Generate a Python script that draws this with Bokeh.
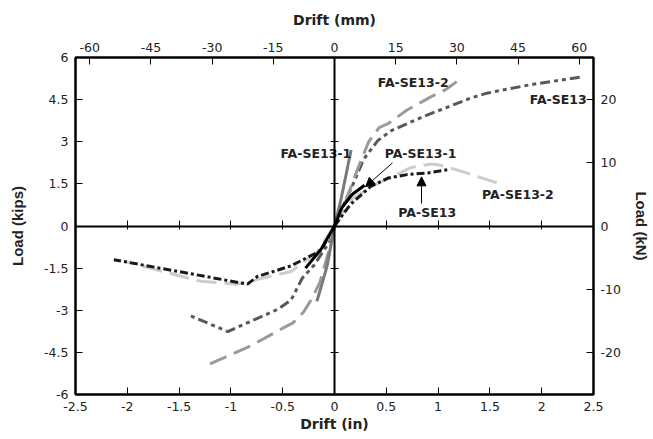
from bokeh.plotting import figure
from bokeh.models import Range1d, LinearAxis, FixedTicker, Arrow, NormalHead
from bokeh.embed import file_html
from bokeh.resources import INLINE
from bokeh.core.properties import value

IN_TO_MM = 25.4
KIP_TO_KN = 4.448

# ---- axis ticks / labels ----
x_ticks_in = [-2.5, -2, -1.5, -1, -0.5, 0, 0.5, 1, 1.5, 2, 2.5]
x_labels_in = ["-2.5", "-2", "-1.5", "-1", "-0.5", "0", "0.5", "1", "1.5", "2", "2.5"]
x_ticks_mm = [-60, -45, -30, -15, 0, 15, 30, 45, 60]
x_labels_mm = ["-60", "-45", "-30", "-15", "0", "15", "30", "45", "60"]
y_ticks_kips = [-6, -4.5, -3, -1.5, 0, 1.5, 3, 4.5, 6]
y_labels_kips = ["-6", "-4.5", "-3", "-1.5", "0", "1.5", "3", "4.5", "6"]
y_ticks_kn = [-20, -10, 0, 10, 20]
y_labels_kn = ["-20", "-10", "0", "10", "20"]
zero_x_ticks = [-2, -1.5, -1, -0.5, 0.5, 1, 1.5, 2]
zero_y_ticks = [-4.5, -3, -1.5, 1.5, 3, 4.5]

# ---- data: drift (in), load (kips) ----
fa_se13_pos_x = [0, 0.11, 0.17, 0.28, 0.42, 0.55, 0.86, 1.31, 1.47, 1.89, 2.37]
fa_se13_pos_y = [0, 0.94, 1.41, 2.37, 3.05, 3.4, 3.9, 4.55, 4.73, 5.03, 5.3]
fa_se13_neg_x = [0, -0.02, -0.2, -0.31, -0.42, -0.55, -1.03, -1.42]
fa_se13_neg_y = [0, -0.4, -1.41, -1.85, -2.64, -2.97, -3.76, -3.15]

fa_se13_1_pos_x = [0, 0.06, 0.11, 0.16]
fa_se13_1_pos_y = [0, 0.9, 1.8, 2.7]
fa_se13_1_neg_x = [0, -0.03, -0.07, -0.12, -0.17]
fa_se13_1_neg_y = [0, -0.6, -1.4, -2.05, -2.68]

fa_se13_2_pos_x = [0, 0.09, 0.22, 0.33, 0.43, 0.52, 0.70, 0.93, 1.07, 1.18]
fa_se13_2_pos_y = [0, 0.7, 2.0, 3.0, 3.5, 3.65, 4.13, 4.6, 4.85, 5.14]
fa_se13_2_neg_x = [0, -0.06, -0.14, -0.22, -0.3, -0.4, -0.49, -0.81, -1.23]
fa_se13_2_neg_y = [0, -0.95, -2.0, -2.6, -3.07, -3.45, -3.62, -4.27, -4.96]

pa_se13_pos_x = [0, 0.15, 0.35, 0.52, 0.7, 0.9, 1.1]
pa_se13_pos_y = [0, 0.75, 1.41, 1.71, 1.83, 1.89, 2.01]
pa_se13_neg_x = [0, -0.13, -0.42, -0.745, -0.84, -2.13]
pa_se13_neg_y = [0, -0.87, -1.42, -1.8, -2.07, -1.2]

pa_se13_1_pos_x = [0, 0.07, 0.17, 0.29]
pa_se13_1_pos_y = [0, 0.65, 1.12, 1.45]
pa_se13_1_neg_x = [0, -0.13, -0.28]
pa_se13_1_neg_y = [0, -0.83, -1.5]

pa_se13_2_pos_x = [0, 0.16, 0.38, 0.6, 0.73, 0.93, 1.0, 1.18, 1.6]
pa_se13_2_pos_y = [0, 0.94, 1.45, 1.83, 2.07, 2.21, 2.18, 2.0, 1.5]
pa_se13_2_neg_x = [0, -0.17, -0.42, -0.94, -1.29, -2.03]
pa_se13_2_neg_y = [0, -0.95, -1.62, -2.07, -1.97, -1.26]

label_text = ["FA-SE13-2", "FA-SE13", "FA-SE13-1", "PA-SE13-1", "PA-SE13", "PA-SE13-2"]
label_x = [0.76, 2.16, -0.18, 0.83, 0.895, 1.77]
label_y = [5.12, 4.5, 2.59, 2.59, 0.47, 1.12]

arrow_start_x = [0.56, 0.84]
arrow_start_y = [2.25, 0.8]
arrow_end_x = [0.3, 0.84]
arrow_end_y = [1.4, 1.75]

WIDE = "DejaVu Sans"
NARROW = "Liberation Sans"

p = figure(width=653, height=439,
           x_range=Range1d(-2.5, 2.5), y_range=Range1d(-6, 6),
           output_backend="svg", toolbar_location=None,
           min_border_left=75, min_border_right=60,
           min_border_top=57, min_border_bottom=45)
p.grid.visible = False
p.outline_line_color = "black"
p.outline_line_width = 2
p.background_fill_color = "white"
p.border_fill_color = "white"

bottom_axis = p.below[0]
left_axis = p.left[0]

p.extra_x_ranges = {"mm": Range1d(-2.5 * IN_TO_MM, 2.5 * IN_TO_MM)}
p.extra_y_ranges = {"kN": Range1d(-6 * KIP_TO_KN, 6 * KIP_TO_KN)}

top_axis = LinearAxis(x_range_name="mm")
right_axis = LinearAxis(y_range_name="kN")
p.add_layout(top_axis, "above")
p.add_layout(right_axis, "right")


def style(ax, ticks, labels, title, title_font, title_size, standoff, label_standoff):
    ax.ticker = FixedTicker(ticks=ticks)
    ax.major_label_overrides = {t: l for t, l in zip(ticks, labels)}
    ax.minor_tick_line_color = None
    ax.major_tick_in = 7
    ax.major_tick_out = 0
    ax.major_tick_line_width = 1
    ax.axis_line_width = 2
    ax.major_label_text_font = WIDE
    ax.major_label_text_font_size = "12.5px"
    ax.major_label_text_color = "#222222"
    ax.major_label_standoff = label_standoff
    ax.axis_label = title
    ax.axis_label_text_font = title_font
    ax.axis_label_text_font_style = "bold"
    ax.axis_label_text_font_size = title_size
    ax.axis_label_text_color = "#222222"
    ax.axis_label_standoff = standoff


style(bottom_axis, x_ticks_in, x_labels_in, "Drift (in)", WIDE, "14px", 2, 7)
style(top_axis, x_ticks_mm, x_labels_mm, "Drift (mm)", WIDE, "14px", 12, 6)
style(left_axis, y_ticks_kips, y_labels_kips, "Load (kips)", NARROW, "15px", 15, 7)
style(right_axis, y_ticks_kn, y_labels_kn, "Load (kN)", NARROW, "15px", 9, 7)

# zero lines drawn as axes fixed at 0, with their own crossing tick marks
zero_h = LinearAxis(fixed_location=0, ticker=FixedTicker(ticks=zero_x_ticks),
                    major_label_overrides={t: "" for t in zero_x_ticks},
                    major_tick_in=6, major_tick_out=3, major_tick_line_width=1,
                    minor_tick_line_color=None, axis_line_width=2)
zero_v = LinearAxis(fixed_location=0, ticker=FixedTicker(ticks=zero_y_ticks),
                    major_label_overrides={t: "" for t in zero_y_ticks},
                    major_tick_in=4, major_tick_out=4, major_tick_line_width=1,
                    minor_tick_line_color=None, axis_line_width=2)
p.add_layout(zero_h, "below")
p.add_layout(zero_v, "left")

series = [
    (fa_se13_pos_x, fa_se13_pos_y, fa_se13_neg_x, fa_se13_neg_y, "#585858", "10 4 4 4 4 4"),
    (fa_se13_2_pos_x, fa_se13_2_pos_y, fa_se13_2_neg_x, fa_se13_2_neg_y, "#9a9a9a", "18 8"),
    (pa_se13_2_pos_x, pa_se13_2_pos_y, pa_se13_2_neg_x, pa_se13_2_neg_y, "#cccccc", "20 8"),
    (fa_se13_1_pos_x, fa_se13_1_pos_y, fa_se13_1_neg_x, fa_se13_1_neg_y, "#7a7a7a", "solid"),
    (pa_se13_pos_x, pa_se13_pos_y, pa_se13_neg_x, pa_se13_neg_y, "#1a1a1a", "8 3 3 3"),
    (pa_se13_1_pos_x, pa_se13_1_pos_y, pa_se13_1_neg_x, pa_se13_1_neg_y, "#000000", "solid"),
]
for px, py, nx, ny, color, dash in series:
    p.line(px, py, line_color=color, line_width=3, line_dash=dash)
    p.line(nx, ny, line_color=color, line_width=3, line_dash=dash)

for xs, ys, xe, ye in zip(arrow_start_x, arrow_start_y, arrow_end_x, arrow_end_y):
    p.add_layout(Arrow(end=NormalHead(size=9, fill_color="black", line_color="black"),
                       x_start=xs, y_start=ys, x_end=xe, y_end=ye,
                       line_color="black", line_width=1))

p.text(x=label_x, y=label_y, text=label_text, text_font=value(WIDE),
       text_font_style="bold", text_font_size="12.5px", text_color="#222222",
       text_align="center", text_baseline="middle")

open("out.html", "w").write(file_html(p, INLINE))
